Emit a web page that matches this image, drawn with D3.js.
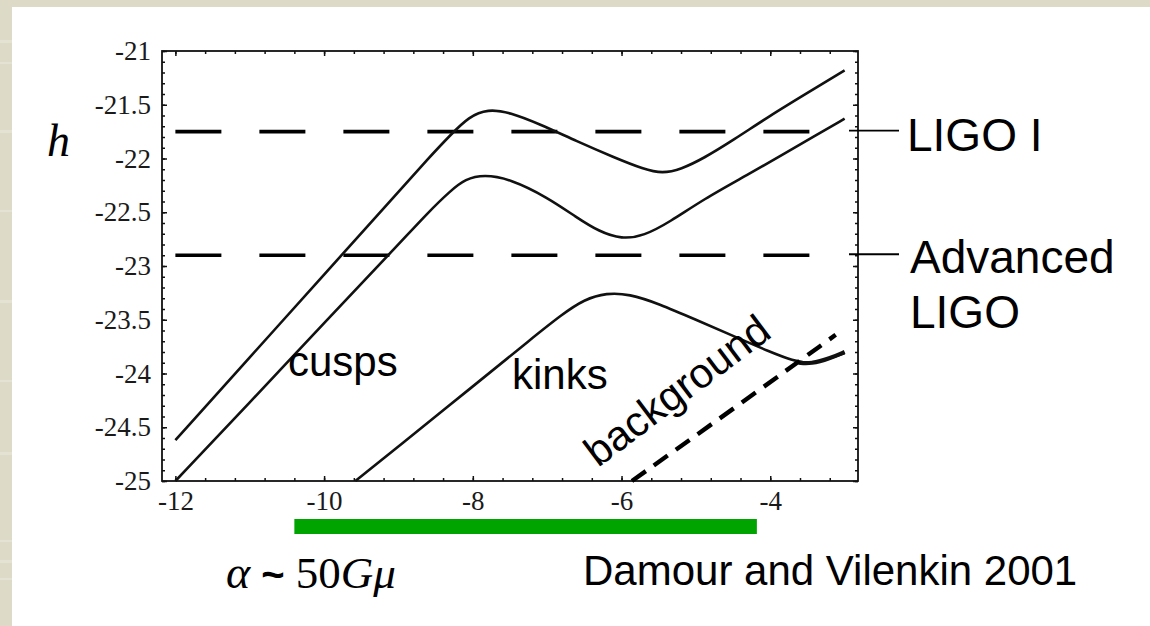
<!DOCTYPE html>
<html>
<head>
<meta charset="utf-8">
<script src="https://cdn.jsdelivr.net/npm/d3@7"></script>
<style>
  html, body { margin: 0; padding: 0; background: #dddbc7; }
  svg { display: block; }
</style>
</head>
<body>
<script>
// Axis ticks
const xTicks = [-12, -10, -8, -6, -4];
const yTicks = [-25, -24.5, -24, -23.5, -23, -22.5, -22, -21.5, -21];

// Curves: [log alpha, log h]
const cuspsUpper = [
  [-12, -24.62], [-11, -23.85], [-10, -23.08], [-9, -22.31], [-8.6, -22.0],
  [-8.3, -21.78], [-8.05, -21.61], [-7.8, -21.54], [-7.5, -21.57], [-7.1, -21.68],
  [-6.6, -21.84], [-6.1, -21.99], [-5.7, -22.1], [-5.45, -22.14], [-5.2, -22.1],
  [-4.9, -22.0], [-4.5, -21.83], [-4.0, -21.6], [-3.5, -21.39], [-3, -21.18]
];
const cuspsLower = [
  [-12, -25], [-11, -24.27], [-10, -23.53], [-9, -22.8], [-8.6, -22.5],
  [-8.3, -22.3], [-8.1, -22.19], [-7.85, -22.15], [-7.5, -22.19], [-7.0, -22.36],
  [-6.6, -22.55], [-6.3, -22.68], [-6.0, -22.75], [-5.7, -22.72], [-5.35, -22.59],
  [-4.9, -22.38], [-4.3, -22.15], [-3.8, -21.95], [-3.4, -21.79], [-3, -21.63]
];
const kinks = [
  [-9.58, -25], [-9, -24.68], [-8, -24.12], [-7.2, -23.67], [-6.8, -23.45],
  [-6.5, -23.31], [-6.2, -23.25], [-5.9, -23.26], [-5.5, -23.35], [-5.0, -23.5],
  [-4.5, -23.65], [-4.0, -23.8], [-3.7, -23.88], [-3.45, -23.91], [-3.2, -23.86],
  [-3, -23.81]
];
const kinksTail = [[-3.62, -23.9], [-3.45, -23.91], [-3.2, -23.86], [-3, -23.8]];
const background = [[-5.86, -25], [-4.5, -24.33], [-3.12, -23.64]];

// Detector sensitivities and alpha range
const ligoI = -21.75;
const advancedLigo = -22.9;
const sensitivityRange = [-12, -3];
const alphaRange = [-10.4, -4.18];

const width = 1150, height = 626;
const plot = { left: 162, right: 858, top: 51, bottom: 481 };

const svg = d3.select('body').append('svg')
  .attr('width', width)
  .attr('height', height);

// Slide background: beige strips, white panel
svg.append('rect').attr('width', width).attr('height', height).attr('fill', '#dddbc7');
[[40, 3], [62, 2], [130, 3], [210, 2], [300, 3], [380, 2], [452, 3], [540, 2], [560, 3], [578, 2]]
  .forEach(([y0, h0]) => {
    svg.append('rect').attr('x', 0).attr('y', y0).attr('width', 12).attr('height', h0)
      .attr('fill', '#e4e3d3');
  });
svg.append('rect').attr('x', 12).attr('y', 7).attr('width', width - 12).attr('height', height - 7)
  .attr('fill', '#ffffff');

const x = d3.scaleLinear().domain([-12.18, -2.82]).range([plot.left, plot.right]);
const y = d3.scaleLinear().domain([-25, -21]).range([plot.bottom, plot.top]);

const minorX = d3.range(-12, -2.81, 0.4);
const minorY = d3.range(-25, -20.99, 0.1);

const serif = "'Liberation Serif', 'Times New Roman', serif";
const sans = "'Liberation Sans', Arial, sans-serif";
const plain = d => String(d);

// Frame ticks, pointing inward on all four sides
function ticks(axis, values, size, tx, ty) {
  svg.append('g')
    .attr('transform', 'translate(' + tx + ',' + ty + ')')
    .call(axis.tickValues(values).tickSizeInner(-size).tickSizeOuter(0).tickFormat(''))
    .call(g => g.select('.domain').remove())
    .call(g => g.selectAll('line').attr('stroke', '#111').attr('stroke-width', 1.5));
}
ticks(d3.axisBottom(x), minorX, 3, 0, plot.bottom);
ticks(d3.axisTop(x), minorX, 3, 0, plot.top);
ticks(d3.axisLeft(y), minorY, 3, plot.left, 0);
ticks(d3.axisRight(y), minorY, 3, plot.right, 0);
ticks(d3.axisBottom(x), xTicks, 5, 0, plot.bottom);
ticks(d3.axisTop(x), xTicks, 5, 0, plot.top);
ticks(d3.axisLeft(y), yTicks, 5, plot.left, 0);
ticks(d3.axisRight(y), yTicks, 5, plot.right, 0);

// Tick labels
svg.append('g')
  .attr('transform', 'translate(0,' + plot.bottom + ')')
  .call(d3.axisBottom(x).tickValues(xTicks).tickSize(0).tickPadding(10).tickFormat(plain))
  .call(g => g.select('.domain').remove())
  .attr('font-family', serif).attr('font-size', 27)
  .selectAll('text').attr('fill', '#1a1a1a').attr('dy', '0.71em');

svg.append('g')
  .attr('transform', 'translate(' + plot.left + ',0)')
  .call(d3.axisLeft(y).tickValues(yTicks).tickSize(0).tickPadding(11).tickFormat(plain))
  .call(g => g.select('.domain').remove())
  .attr('font-family', serif).attr('font-size', 27)
  .selectAll('text').attr('fill', '#1a1a1a');

// Frame
svg.append('rect')
  .attr('x', plot.left).attr('y', plot.top)
  .attr('width', plot.right - plot.left).attr('height', plot.bottom - plot.top)
  .attr('fill', 'none').attr('stroke', '#111').attr('stroke-width', 1.8);

// Sensitivity lines
[ligoI, advancedLigo].forEach(v => {
  svg.append('line')
    .attr('x1', x(sensitivityRange[0])).attr('x2', x(sensitivityRange[1]))
    .attr('y1', y(v)).attr('y2', y(v))
    .attr('stroke', '#000').attr('stroke-width', 3.6)
    .attr('stroke-dasharray', '46,38');
  svg.append('line')
    .attr('x1', plot.right - 9).attr('x2', plot.right + 41)
    .attr('y1', y(v) - 1).attr('y2', y(v) - 1)
    .attr('stroke', '#000').attr('stroke-width', 1.8);
});

// Curves
const line = d3.line()
  .x(d => x(d[0]))
  .y(d => y(d[1]))
  .curve(d3.curveBasis);

const plotArea = svg.append('g');
[cuspsUpper, cuspsLower, kinks].forEach(data => {
  plotArea.append('path')
    .datum(data)
    .attr('d', line)
    .attr('fill', 'none')
    .attr('stroke', '#111')
    .attr('stroke-width', 2.6);
});
plotArea.append('path')
  .datum(kinksTail)
  .attr('d', line)
  .attr('fill', 'none')
  .attr('stroke', '#111')
  .attr('stroke-width', 4.2);
plotArea.append('path')
  .datum(background)
  .attr('d', line)
  .attr('fill', 'none')
  .attr('stroke', '#000')
  .attr('stroke-width', 4.4)
  .attr('stroke-dasharray', '17,10');

// Alpha range bar
svg.append('rect')
  .attr('x', x(alphaRange[0])).attr('y', 519)
  .attr('width', x(alphaRange[1]) - x(alphaRange[0])).attr('height', 15)
  .attr('fill', '#00a400');

// Labels
svg.append('text')
  .attr('x', 47).attr('y', 156)
  .attr('font-family', serif).attr('font-style', 'italic').attr('font-size', 46)
  .text('h');

const alpha = svg.append('text')
  .attr('x', 226).attr('y', 588)
  .attr('font-family', serif).attr('font-size', 45);
alpha.append('tspan').attr('font-style', 'italic').attr('font-size', 46).text('α');
alpha.append('tspan').attr('font-family', sans).attr('font-weight', 'bold').attr('font-size', 40).text(' ~ ');
alpha.append('tspan').text('50');
alpha.append('tspan').attr('font-style', 'italic').text('Gμ');

const labels = [
  { text: 'LIGO I', x: 907, y: 151, size: 46 },
  { text: 'Advanced', x: 910, y: 273, size: 46 },
  { text: 'LIGO', x: 910, y: 328, size: 46 },
  { text: 'cusps', x: 288, y: 376, size: 42 },
  { text: 'kinks', x: 512, y: 389, size: 42 },
  { text: 'Damour and Vilenkin 2001', x: 583, y: 585, size: 42 }
];
svg.selectAll('.label')
  .data(labels)
  .enter().append('text')
  .attr('class', 'label')
  .attr('x', d => d.x).attr('y', d => d.y)
  .attr('font-family', sans).attr('font-size', d => d.size)
  .attr('fill', '#000')
  .text(d => d.text);

svg.append('text')
  .attr('transform', 'translate(598,468) rotate(-37)')
  .attr('font-family', sans).attr('font-size', 42)
  .text('background');
</script>
</body>
</html>
